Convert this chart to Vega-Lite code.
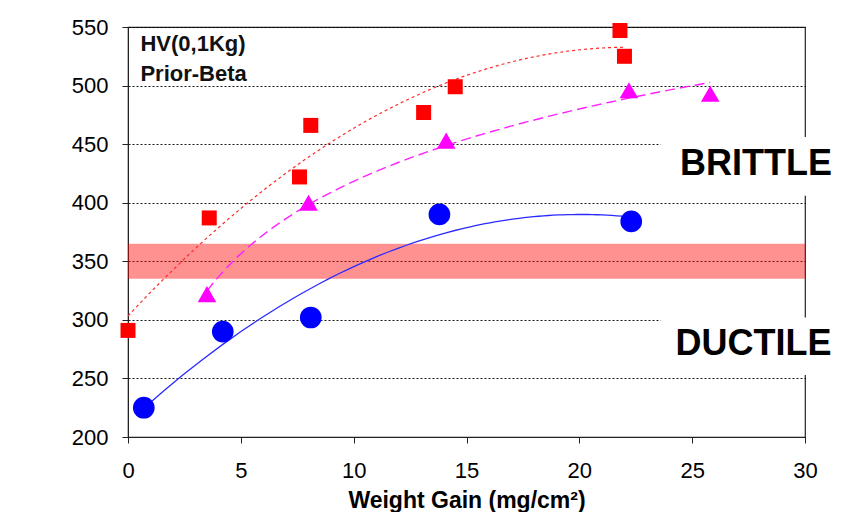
{
  "$schema": "https://vega.github.io/schema/vega-lite/v6.json",
  "width": 677,
  "height": 410,
  "autosize": "none",
  "padding": {"left": 128, "top": 27, "right": 43, "bottom": 75},
  "background": "white",
  "config": {
    "view": {"stroke": "#222", "strokeWidth": 1.2},
    "font": "Liberation Sans",
    "axis": {"domainColor": "#222", "tickColor": "#222", "tickSize": 6, "labelFontSize": 22, "labelColor": "#000", "labelFont": "Liberation Sans"}
  },
  "data": {
    "values": [
      {"series": "A", "x": 0, "y": 291},
      {"series": "A", "x": 3.6, "y": 387},
      {"series": "A", "x": 7.6, "y": 422},
      {"series": "A", "x": 8.1, "y": 466},
      {"series": "A", "x": 13.1, "y": 477},
      {"series": "A", "x": 14.5, "y": 499},
      {"series": "A", "x": 21.8, "y": 547},
      {"series": "A", "x": 22.0, "y": 525},
      {"series": "B", "x": 3.5, "y": 322},
      {"series": "B", "x": 8.0, "y": 400},
      {"series": "B", "x": 14.1, "y": 453},
      {"series": "B", "x": 22.2, "y": 496},
      {"series": "B", "x": 25.8, "y": 493},
      {"series": "C", "x": 0.7, "y": 225},
      {"series": "C", "x": 4.2, "y": 290},
      {"series": "C", "x": 8.1, "y": 302},
      {"series": "C", "x": 13.8, "y": 390},
      {"series": "C", "x": 22.3, "y": 384}
    ]
  },
  "layer": [
    {
      "data": {"values": [{"lo": 335, "hi": 365}]},
      "mark": {"type": "rect", "color": "#ff0000", "opacity": 0.43},
      "encoding": {
        "x": {"datum": 0, "type": "quantitative"},
        "x2": {"datum": 30},
        "y": {"field": "lo", "type": "quantitative"},
        "y2": {"field": "hi"}
      }
    },
    {
      "data": {"values": [{"bx": 23.6, "bx2": 31.5, "by": 406, "by2": 456}, {"bx": 23.6, "bx2": 31.5, "by": 253, "by2": 302}]},
      "mark": {"type": "rect", "color": "white", "opacity": 1},
      "encoding": {
        "x": {"field": "bx", "type": "quantitative"},
        "x2": {"field": "bx2"},
        "y": {"field": "by", "type": "quantitative"},
        "y2": {"field": "by2"}
      }
    },
    {
      "transform": [{"filter": "datum.series === 'A'"}, {"regression": "y", "on": "x", "method": "poly", "order": 2}],
      "mark": {"type": "line", "color": "#ff2a2a", "strokeDash": [3, 3], "strokeWidth": 1.2},
      "encoding": {"x": {"field": "x", "type": "quantitative"}, "y": {"field": "y", "type": "quantitative"}}
    },
    {
      "transform": [{"filter": "datum.series === 'B'"}, {"regression": "y", "on": "x", "method": "log"}],
      "mark": {"type": "line", "color": "#ff22ff", "strokeDash": [10, 5], "strokeWidth": 1.4},
      "encoding": {"x": {"field": "x", "type": "quantitative"}, "y": {"field": "y", "type": "quantitative"}}
    },
    {
      "transform": [{"filter": "datum.series === 'C'"}, {"regression": "y", "on": "x", "method": "poly", "order": 2}],
      "mark": {"type": "line", "color": "#2a2aff", "strokeWidth": 1.3},
      "encoding": {"x": {"field": "x", "type": "quantitative"}, "y": {"field": "y", "type": "quantitative"}}
    },
    {
      "mark": {"type": "point", "filled": true, "opacity": 1},
      "encoding": {
        "x": {
          "field": "x", "type": "quantitative",
          "scale": {"domain": [0, 30], "nice": false, "zero": false},
          "axis": {"values": [0, 5, 10, 15, 20, 25, 30], "grid": false, "title": "Weight Gain (mg/cm²)", "titleFontSize": 23, "titleFontWeight": "bold", "titleColor": "#000", "titleFont": "Liberation Sans", "titleY": 70, "titleBaseline": "alphabetic", "labelPadding": 17, "labelFlush": false, "labelOverlap": false}
        },
        "y": {
          "field": "y", "type": "quantitative",
          "scale": {"domain": [200, 550], "nice": false, "zero": false},
          "axis": {"values": [200, 250, 300, 350, 400, 450, 500, 550], "grid": true, "gridColor": "#000", "gridDash": [2, 2], "gridWidth": 1, "gridOpacity": 0.9, "title": null, "labelPadding": 14, "labelOverlap": false}
        },
        "shape": {"field": "series", "type": "nominal", "scale": {"domain": ["A", "B", "C"], "range": ["square", "triangle-up", "circle"]}, "legend": null},
        "color": {"field": "series", "type": "nominal", "scale": {"domain": ["A", "B", "C"], "range": ["#ff0000", "#ff00ff", "#0000ff"]}, "legend": null},
        "size": {"field": "series", "type": "ordinal", "scale": {"domain": ["A", "B", "C"], "range": [225, 470, 190]}, "legend": null}
      }
    },
    {
      "data": {"values": [{"t": "HV(0,1Kg)", "tx": 0.55, "ty": 529.5}, {"t": "Prior-Beta", "tx": 0.55, "ty": 503.8}]},
      "mark": {"type": "text", "align": "left", "baseline": "alphabetic", "fontSize": 22, "fontWeight": "bold", "color": "#111", "font": "Liberation Sans"},
      "encoding": {
        "x": {"field": "tx", "type": "quantitative"},
        "y": {"field": "ty", "type": "quantitative"},
        "text": {"field": "t"}
      }
    },
    {
      "data": {"values": [{"t": "BRITTLE", "tx": 27.83, "ty": 423.4}, {"t": "DUCTILE", "tx": 27.72, "ty": 270.3}]},
      "mark": {"type": "text", "align": "center", "baseline": "alphabetic", "fontSize": 36, "fontWeight": "bold", "color": "#000", "font": "Liberation Sans"},
      "encoding": {
        "x": {"field": "tx", "type": "quantitative"},
        "y": {"field": "ty", "type": "quantitative"},
        "text": {"field": "t"}
      }
    }
  ]
}
